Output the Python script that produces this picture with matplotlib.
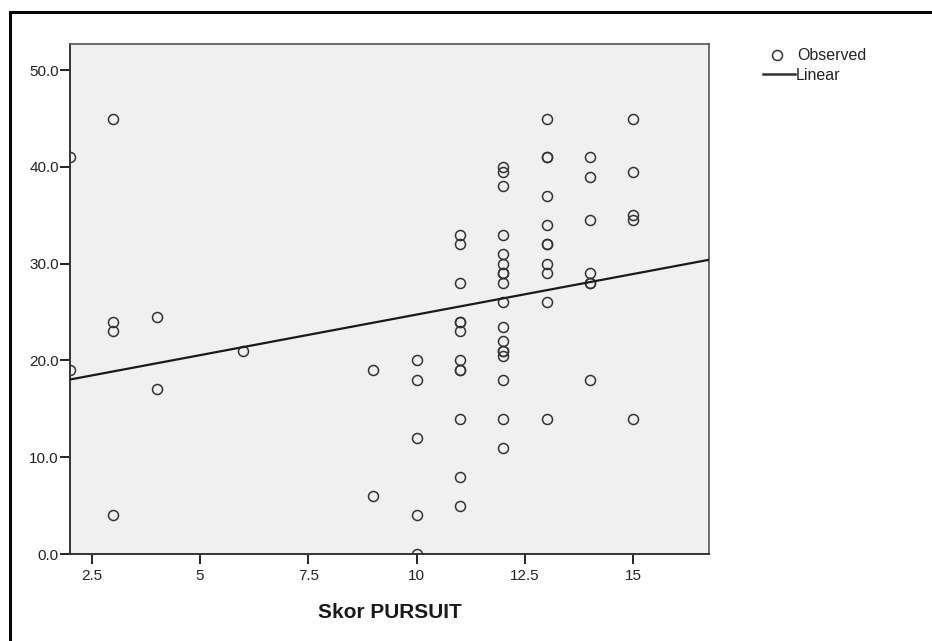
import numpy as np
import matplotlib
matplotlib.use("Agg")
import matplotlib.pyplot as plt
from matplotlib.lines import Line2D

plt.rcParams['font.family'] = ['Liberation Sans', 'DejaVu Sans']

# Observed data: Skor PURSUIT (x) vs outcome (y)
skor_pursuit = [2, 2,
                3, 3, 3, 3,
                4, 4,
                6,
                9, 9,
                10, 10, 10, 10, 10,
                11, 11, 11, 11, 11, 11, 11, 11, 11, 11, 11, 11,
                12, 12, 12, 12, 12, 12, 12, 12, 12, 12, 12, 12, 12, 12, 12, 12, 12, 12,
                13, 13, 13, 13, 13, 13, 13, 13, 13, 13, 13,
                14, 14, 14, 14, 14, 14, 14,
                15, 15, 15, 15, 15]
observed = [41, 19,
            45, 24, 23, 4,
            24.5, 17,
            21,
            19, 6,
            20, 18, 12, 4, 0,
            33, 32, 28, 24, 24, 23, 20, 19, 19, 14, 8, 5,
            40, 39.5, 38, 33, 31, 30, 29, 29, 28, 26, 23.5, 22, 21, 21, 20.5, 18, 14, 11,
            45, 41, 41, 37, 34, 32, 32, 30, 29, 26, 14,
            41, 39, 34.5, 29, 28, 28, 18,
            45, 39.5, 35, 34.5, 14]

x_ticks = [2.5, 5, 7.5, 10, 12.5, 15]
x_tick_labels = ["2.5", "5", "7.5", "10", "12.5", "15"]
y_ticks = [0, 10, 20, 30, 40, 50]
y_tick_labels = ["0.0", "10.0", "20.0", "30.0", "40.0", "50.0"]
x_label = "Skor PURSUIT"

W, H = 932, 641
fig = plt.figure(figsize=(W / 100, H / 100), dpi=100)
fig.patch.set_facecolor("white")

L, R, T, B = 70, 709, 44, 554
ax = fig.add_axes([L / W, 1 - B / H, (R - L) / W, (B - T) / H])
ax.set_facecolor("#f0f0f0")

xmin, xmax = 2.0, 16.75
ymin, ymax = 0.0, 52.7
ax.set_xlim(xmin, xmax)
ax.set_ylim(ymin, ymax)

ax.plot(skor_pursuit, observed, linestyle="none", marker="o", markersize=7.2,
        markerfacecolor="none", markeredgecolor="#333333", markeredgewidth=1.1,
        clip_on=True, zorder=3)

slope, intercept = np.polyfit(np.array(skor_pursuit, float), np.array(observed, float), 1)
xl = np.array([xmin, xmax])
ax.plot(xl, intercept + slope * xl, color="#1a1a1a", linewidth=1.6, zorder=4)

ax.set_xticks(x_ticks)
ax.set_xticklabels(x_tick_labels)
ax.set_yticks(y_ticks)
ax.set_yticklabels(y_tick_labels)
ax.tick_params(axis="x", direction="out", length=7, width=1.4, pad=4,
               labelsize=11, colors="#222222")
ax.tick_params(axis="y", direction="out", length=7, width=1.4, pad=1,
               labelsize=11, colors="#222222")
for side in ["left", "bottom"]:
    ax.spines[side].set_color("#333333")
    ax.spines[side].set_linewidth(1.4)
for side in ["top", "right"]:
    ax.spines[side].set_color("#555555")
    ax.spines[side].set_linewidth(1.2)

ax.set_xlabel(x_label, fontsize=15, fontweight="bold", color="#1a1a1a", labelpad=14)

# Legend
fig.add_artist(Line2D([777 / W], [1 - 55 / H], marker="o", markersize=7.2,
                      markerfacecolor="none", markeredgecolor="#333333",
                      markeredgewidth=1.1, linestyle="none"))
fig.text(797 / W, 1 - 55 / H, "Observed", fontsize=11.5, color="#222222",
         va="center", ha="left")
fig.add_artist(Line2D([763 / W, 795 / W], [1 - 74 / H, 1 - 74 / H],
                      color="#333333", linewidth=1.8))
fig.text(796 / W, 1 - 75 / H, "Linear", fontsize=11.5, color="#222222",
         va="center", ha="left")

# Outer frame (left and top edges)
fig.add_artist(Line2D([10 / W, 10 / W], [0, 1 - 12 / H], color="black", linewidth=2.2))
fig.add_artist(Line2D([10 / W, 1], [1 - 12 / H, 1 - 12 / H], color="black", linewidth=2.2))

fig.savefig("out.png", dpi=100)
